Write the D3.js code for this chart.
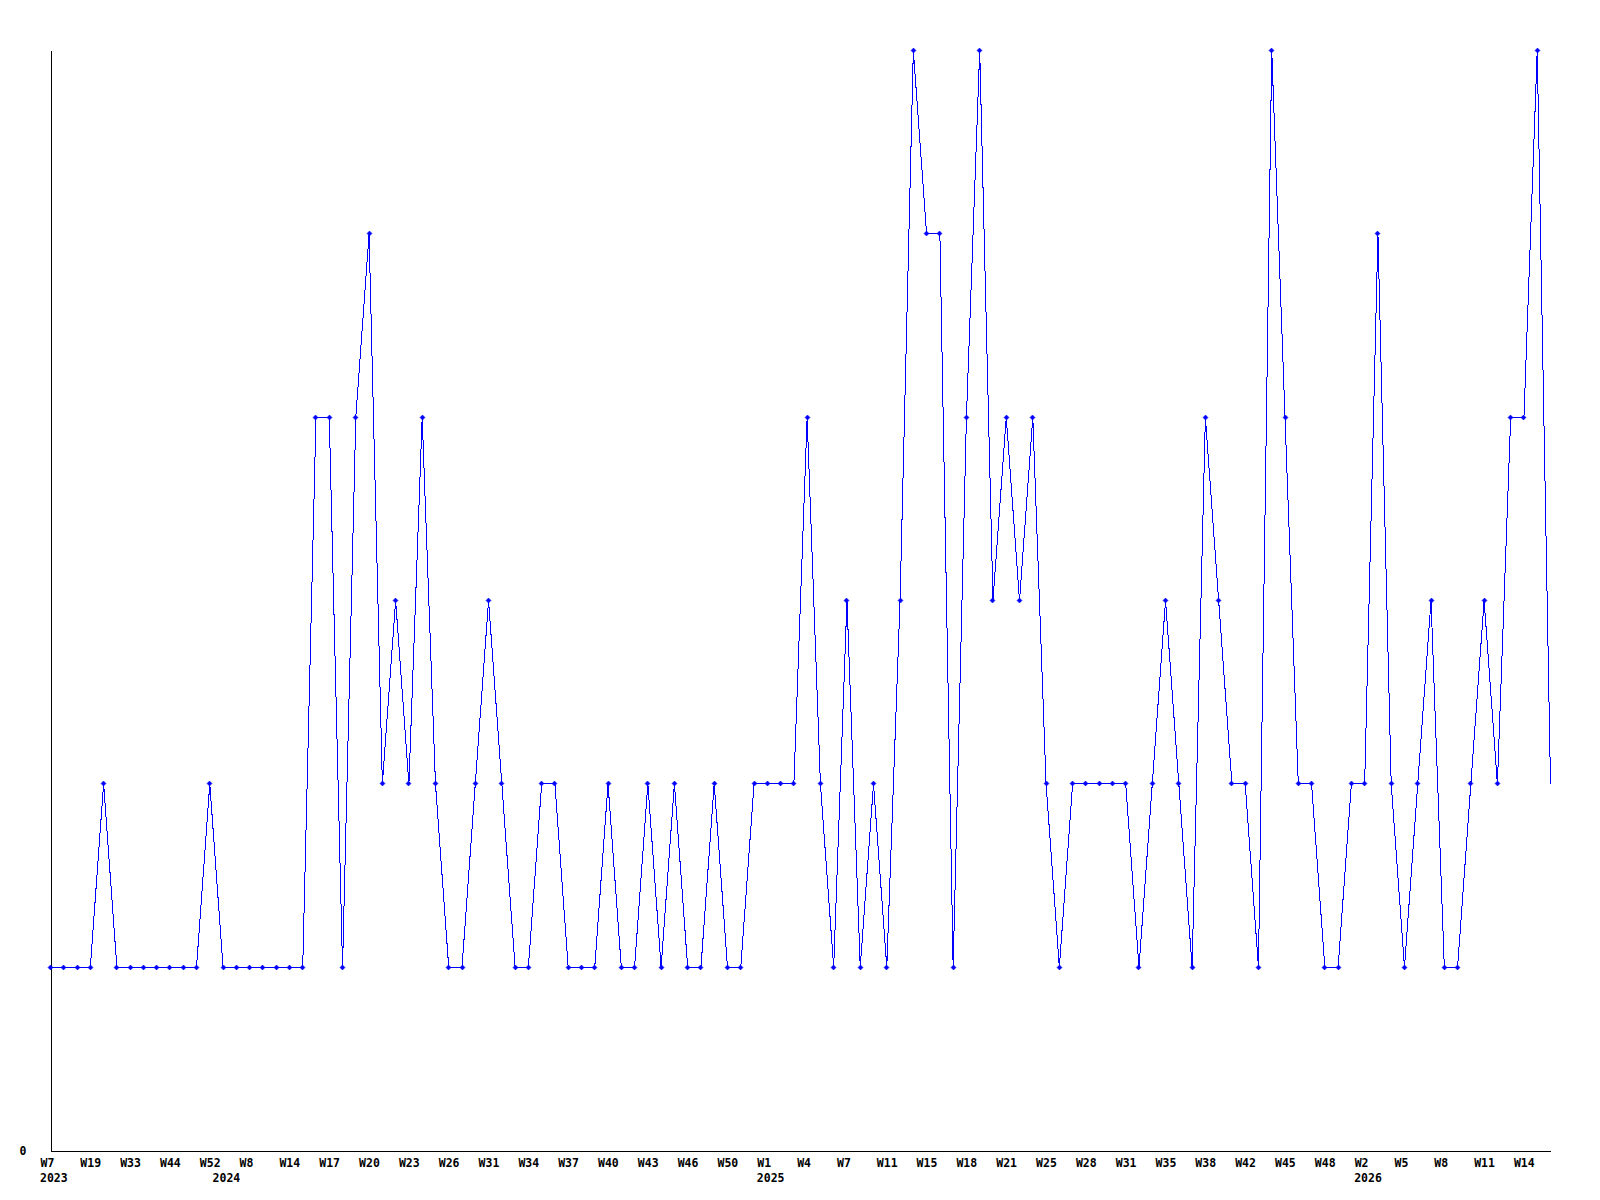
<!DOCTYPE html>
<html>
<head>
<meta charset="utf-8">
<script src="https://cdn.jsdelivr.net/npm/d3@7"></script>
<style>
  body { margin: 0; background: #fff; }
  svg { display: block; }
  text { font-family: "DejaVu Sans Mono", monospace; font-weight: bold; font-size: 11.5px; fill: #000; }
</style>
</head>
<body>
<svg width="1600" height="1200"></svg>
<script>
// weekly counts, one per point
var values = [
  1, 1, 1, 1, 2, 1, 1, 1, 1, 1, 1, 1, 2, 1, 1, 1, 1, 1, 1, 1,
  4, 4, 1, 4, 5, 2, 3, 2, 4, 2, 1, 1, 2, 3, 2, 1, 1, 2, 2, 1,
  1, 1, 2, 1, 1, 2, 1, 2, 1, 1, 2, 1, 1, 2, 2, 2, 2, 4, 2, 1,
  3, 1, 2, 1, 3, 6, 5, 5, 1, 4, 6, 3, 4, 3, 4, 2, 1, 2, 2, 2,
  2, 2, 1, 2, 3, 2, 1, 4, 3, 2, 2, 1, 6, 4, 2, 2, 1, 1, 2, 2,
  5, 2, 1, 2, 3, 1, 1, 2, 3, 2, 4, 4, 6, 2
];

// labels shown on every third point
var weekLabels = [
  "W7", "W19", "W33", "W44", "W52", "W8", "W14", "W17", "W20", "W23",
  "W26", "W31", "W34", "W37", "W40", "W43", "W46", "W50", "W1", "W4",
  "W7", "W11", "W15", "W18", "W21", "W25", "W28", "W31", "W35", "W38",
  "W42", "W45", "W48", "W2", "W5", "W8", "W11", "W14"
];
var labelStep = 3;

var years = ["2023", "2024", "2025", "2026"];
var yearStart = [0, 13, 54, 99];

var yMax = 6;

var svg = d3.select('svg');
var plotLeft = 50, plotRight = 1550, plotTop = 50, plotBottom = 1150;

var x = d3.scaleLinear().domain([0, values.length - 1]).range([plotLeft, plotRight]);
var y = d3.scaleLinear().domain([0, yMax]).range([plotBottom, plotTop]);

var g = svg.append("g").attr("transform", "translate(0.5,0.5)");

// y axis, only the zero label
var yAxis = g.append("g")
    .attr("transform", "translate(" + plotLeft + ",0)")
    .call(d3.axisLeft(y).tickValues([0]).tickFormat(d3.format("d"))
        .tickSize(0).tickPadding(24).tickSizeOuter(0));
yAxis.select(".domain").attr("stroke", "#000").attr("shape-rendering", "crispEdges");
yAxis.selectAll("text").attr("font-family", null).attr("font-size", null).attr("dy", "0.32em");

// x axis with week labels
var tickIdx = weekLabels.map(function(d, i) { return i * labelStep; });
var xAxis = g.append("g")
    .attr("transform", "translate(0," + plotBottom + ")")
    .call(d3.axisBottom(x).tickValues(tickIdx)
        .tickFormat(function(d) { return weekLabels[d / labelStep]; })
        .tickSize(0).tickPadding(0).tickSizeOuter(0));
xAxis.select(".domain").attr("stroke", "#000").attr("shape-rendering", "crispEdges");
xAxis.selectAll("text")
    .attr("font-family", null).attr("font-size", null)
    .attr("text-anchor", "start")
    .attr("dx", -10.5)
    .attr("y", 16)
    .attr("dy", 0);

// year labels under the first week of each year
g.selectAll(".year")
    .data(years)
  .enter().append("text")
    .attr("class", "year")
    .attr("x", function(d, i) { return x(yearStart[i]) - 10.5; })
    .attr("y", plotBottom + 31)
    .text(function(d) { return d; });

// the series
var line = d3.line()
    .x(function(d, i) { return x(i); })
    .y(function(d) { return y(d); });

g.append("path")
    .datum(values)
    .attr("d", line)
    .attr("fill", "none")
    .attr("stroke", "#0000ff")
    .attr("stroke-width", 1)
    .attr("shape-rendering", "crispEdges");

// small markers, the last point has none
g.selectAll(".dot")
    .data(values.slice(0, values.length - 1))
  .enter().append("path")
    .attr("class", "dot")
    .attr("d", function(d, i) {
        var cx = Math.round(x(i)), cy = Math.round(y(d));
        return "M" + (cx - 2.5) + "," + cy + "L" + cx + "," + (cy - 2.5) +
               "L" + (cx + 2.5) + "," + cy + "L" + cx + "," + (cy + 2.5) + "Z";
    })
    .attr("fill", "#0000ff")
    .attr("stroke", "#0000ff")
    .attr("stroke-width", 0.5);
</script>
</body>
</html>
